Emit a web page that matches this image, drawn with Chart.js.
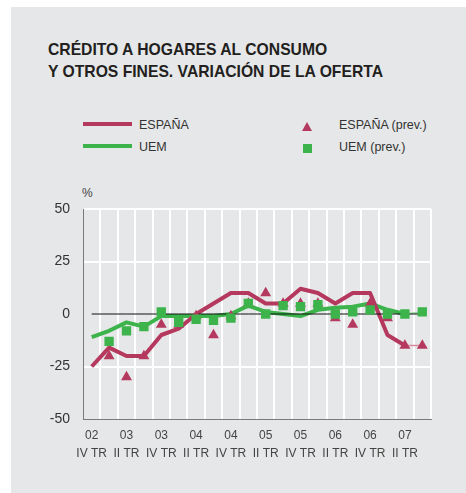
<!DOCTYPE html>
<html>
<head>
<meta charset="utf-8">
<script src="https://cdn.jsdelivr.net/npm/chart.js@4/dist/chart.umd.min.js"></script>
<style>
  body { margin: 0; background: #fff; font-family: "Liberation Sans", Arial, sans-serif; }
  #panel { position: absolute; left: 11px; top: 7px; width: 455px; height: 486px; background: #e6e7e8; }
  #title { position: absolute; left: 48px; top: 39px; font-size: 15.7px; font-weight: bold; color: #231f20; line-height: 22px; }
  .leg { position: absolute; font-size: 12.5px; color: #333; }
  .legline { position: absolute; width: 49px; height: 4px; }
  .tri { position: absolute; width: 0; height: 0; border-left: 5px solid transparent; border-right: 5px solid transparent; border-bottom: 9px solid #b5395f; }
  .sq { position: absolute; width: 9px; height: 9px; background: #3cb44b; }
  #pct { position: absolute; left: 82px; top: 186px; font-size: 12px; color: #444; }
  #chart { position: absolute; left: 0; top: 0; }
</style>
</head>
<body>
<div id="panel"></div>
<div id="title">CRÉDITO A HOGARES AL CONSUMO<br>Y OTROS FINES. VARIACIÓN DE LA OFERTA</div>

<div class="legline" style="left:83px;top:122px;background:#b5395f"></div>
<div class="leg" style="left:139px;top:118px">ESPAÑA</div>
<div class="legline" style="left:83px;top:144px;background:#3cb44b"></div>
<div class="leg" style="left:139px;top:140px">UEM</div>
<div class="tri" style="left:302px;top:122px"></div>
<div class="leg" style="left:339px;top:118px">ESPAÑA (prev.)</div>
<div class="sq" style="left:303px;top:144px"></div>
<div class="leg" style="left:339px;top:140px">UEM (prev.)</div>
<div id="pct">%</div>

<canvas id="chart" width="466" height="493"></canvas>
<script>
// Quarters, 2002 IV TR to 2007 III TR
const years = ["02", "03", "03", "03", "03", "04", "04", "04", "04", "05",
               "05", "05", "05", "06", "06", "06", "06", "07", "07", "07"];
const quarters = ["IV TR", "I TR", "II TR", "III TR", "IV TR", "I TR", "II TR", "III TR", "IV TR", "I TR",
                  "II TR", "III TR", "IV TR", "I TR", "II TR", "III TR", "IV TR", "I TR", "II TR", "III TR"];

const espana = [-25, -16, -20, -20, -10, -7, 0, 5, 10, 10,
                5, 5, 12, 10, 5, 10, 10, -10, -15, -15];
const uem = [-11, -8, -4, -6, -1, -1, -1, -1, 0, 4,
             1, 0, -1, 2, 3, 3.5, 5, 2, 0, 1];
const espanaPrev = [null, -20, -30, -20, -5, -5, -1, -10, -1, 5,
                    10, 5, 5, 5, -2, -5, 5, -2, -15, -15];
const uemPrev = [null, -13, -8, -6, 1, -4, -2.5, -3, -2, 5,
                 0, 4, 3.5, 4.5, 0, 1, 2, 0, 0, 1];
const zero = espana.map(() => 0);

const yTicks = [-50, -25, 0, 25, 50];

const RED = "#b5395f";
const GREEN = "#3cb44b";
const lastSeg = (n) => (ctx) => ctx.p1DataIndex === n - 1;

new Chart(document.getElementById("chart"), {
  type: "line",
  data: {
    labels: years.map((y, i) => [y, quarters[i]]),
    datasets: [
      {
        label: "UEM (prev.)",
        data: uemPrev,
        showLine: false,
        pointStyle: "rect",
        pointRadius: 6.6,
        pointBackgroundColor: GREEN,
        pointBorderWidth: 0
      },
      {
        label: "ESPAÑA (prev.)",
        data: espanaPrev,
        showLine: false,
        pointStyle: "triangle",
        pointRadius: 6.3,
        pointBackgroundColor: RED,
        pointBorderWidth: 0
      },
      {
        label: "zero",
        data: zero,
        borderColor: "#111",
        borderWidth: 1,
        pointRadius: 0
      },
      {
        label: "ESPAÑA",
        data: espana,
        borderColor: RED,
        borderWidth: 4,
        borderJoinStyle: "round",
        pointRadius: 0,
        segment: {
          borderWidth: ctx => lastSeg(espana.length)(ctx) ? 1.5 : 4,
          borderColor: ctx => lastSeg(espana.length)(ctx) ? "#d98aa2" : RED
        }
      },
      {
        label: "UEM",
        data: uem,
        borderColor: GREEN,
        borderWidth: 4,
        borderJoinStyle: "round",
        pointRadius: 0,
        segment: {
          borderWidth: ctx => lastSeg(uem.length)(ctx) ? 1.5 : 4,
          borderColor: ctx => lastSeg(uem.length)(ctx) ? "#8fd39a" : GREEN
        }
      }
    ]
  },
  options: {
    responsive: false,
    animation: false,
    layout: { padding: { left: 0, top: 209, right: 35, bottom: 0 } },
    plugins: { legend: { display: false }, tooltip: { enabled: false } },
    scales: {
      x: {
        offset: true,
        grid: {
          offset: true,
          drawTicks: false,
          lineWidth: 2,
          color: ctx => ctx.index === 0 ? "transparent" : "#ffffff"
        },
        border: { color: "#7a7a7a", width: 1 },
        ticks: {
          autoSkip: false,
          maxRotation: 0,
          padding: 8,
          color: "#444",
          font: { family: "Liberation Sans", size: 12, lineHeight: 1.5 },
          callback: function (value, index) {
            return index % 2 === 0 ? this.getLabelForValue(value) : "";
          }
        },
        afterFit: scale => { scale.height = 74; }
      },
      y: {
        min: -50,
        max: 50,
        afterBuildTicks: scale => { scale.ticks = yTicks.map(v => ({ value: v })); },
        grid: {
          drawTicks: false,
          lineWidth: 2,
          color: ctx => (ctx.tick && (ctx.tick.value === 0 || ctx.tick.value === -50)) ? "transparent" : "#ffffff"
        },
        border: { color: "#7a7a7a", width: 1 },
        ticks: {
          padding: 13,
          color: "#333",
          font: { family: "Liberation Sans", size: 14 }
        },
        afterFit: scale => { scale.width = 83; }
      }
    }
  }
});
</script>
</body>
</html>
